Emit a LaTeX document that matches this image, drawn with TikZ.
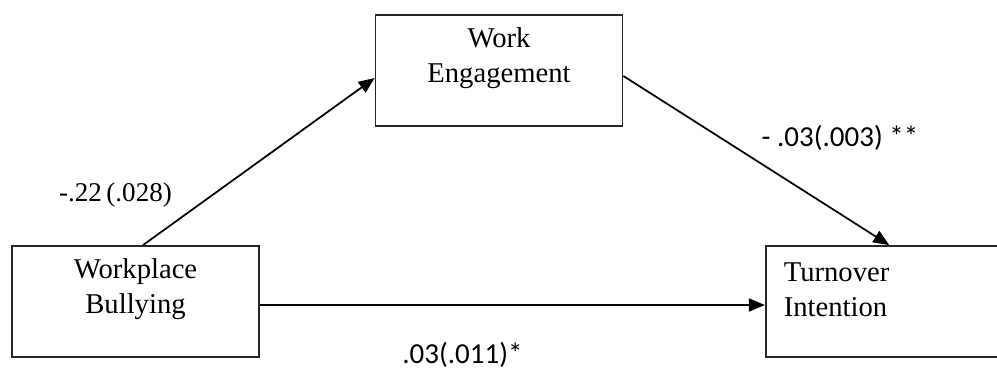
\documentclass[tikz,border=0pt]{standalone}
\usepackage{fontspec}
\setmainfont{Liberation Serif}
\newfontfamily\coeffont{Carlito}
\usetikzlibrary{arrows.meta, positioning}

\begin{document}
\begin{tikzpicture}[>={Triangle[length=0.32cm,width=0.26cm]}, line width=1pt,
    varbox/.style={draw=black!85, rectangle, minimum width=4.94cm, minimum height=2.22cm},
    boxtext/.style={inner sep=0pt, align=center, font=\fontsize{16.3}{20}\selectfont},
    coef/.style={inner sep=0pt, font=\fontsize{16.5}{20}\selectfont\coeffont}]
    \useasboundingbox (0,0) rectangle (19.94,7.52);
    \clip (0,0) rectangle (19.94,7.52);

    \node (wb) [varbox] at (2.71,1.49) {};
    \node (ti) [varbox, right=10.1cm of wb] {};
    \node (we) [varbox] at (9.98,6.11) {};

    \node (wbtext) [boxtext] at ([yshift=0.24cm]wb.center) {Workplace\\Bullying};
    \node (wetext) [boxtext] at ([yshift=0.24cm]we.center) {Work\\Engagement};
    \node (titext) [boxtext, align=left, anchor=west] at ([xshift=0.36cm, yshift=0.24cm]ti.west) {Turnover\\Intention};

    \draw[->] ([xshift=0.15cm]wb.north) -- ([yshift=-0.15cm]we.west);
    \draw[->] ([yshift=-0.11cm]we.east) -- (ti.north);
    \draw[->] ([yshift=-0.07cm]wb.east) -- ([yshift=-0.07cm]ti.west);

    % path coefficients
    \node (a) [coef, font=\fontsize{15.4}{20}\selectfont] at (2.31,3.62) {-.22\,(.028)};
    \node (b) [coef] at (16.8,4.76) {- .03(.003) **};
    \node (c) [coef] at (9.25,0.42) {.03(.011)*};
\end{tikzpicture}
\end{document}
